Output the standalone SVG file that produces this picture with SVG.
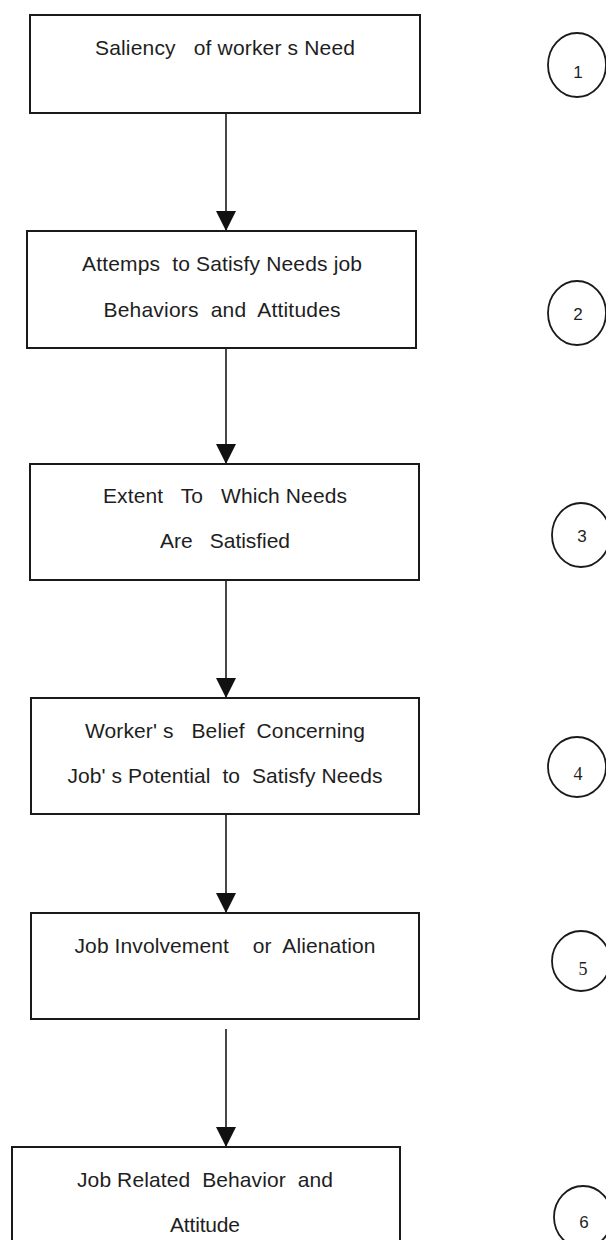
<svg xmlns="http://www.w3.org/2000/svg" width="606" height="1240" viewBox="0 0 606 1240">
<style>
.box{fill:#fff;stroke:#1a1a1a;stroke-width:2}
.lbl{font-family:"Liberation Sans",Arial,sans-serif;font-size:21px;fill:#1e1e1e;text-anchor:middle}
.num{fill:#fff;stroke:#1a1a1a;stroke-width:1.8}
.nt{font-family:"Liberation Sans",Arial,sans-serif;font-size:17px;fill:#1e1e1e;text-anchor:middle}
.ns{font-family:"Liberation Serif","Times New Roman",serif;font-size:18px;fill:#1e1e1e;text-anchor:middle}
.con{stroke:#1a1a1a;stroke-width:1.6;fill:none;marker-end:url(#ah)}
</style>
<defs>
<marker id="ah" markerUnits="userSpaceOnUse" markerWidth="20" markerHeight="22" refX="20" refY="10" orient="auto">
<path d="M0,0 L20,10 L0,20 Z" fill="#111"/>
</marker>
</defs>
<rect width="606" height="1240" fill="#fff"/>
<g id="connectors">
<line class="con" x1="226" y1="113" x2="226" y2="231"/>
<line class="con" x1="226" y1="348" x2="226" y2="464"/>
<line class="con" x1="226" y1="580" x2="226" y2="698"/>
<line class="con" x1="226" y1="814" x2="226" y2="913"/>
<line class="con" x1="226" y1="1029" x2="226" y2="1147"/>
</g>
<g id="node1">
<rect class="box" x="30" y="15" width="390" height="98"/>
<text class="lbl" x="225" y="55" xml:space="preserve" textLength="260" lengthAdjust="spacing">Saliency   of worker s Need</text>
</g>
<g id="node2">
<rect class="box" x="27" y="231" width="389" height="117"/>
<text class="lbl" x="222" y="271" xml:space="preserve" textLength="280" lengthAdjust="spacing">Attemps  to Satisfy Needs job</text>
<text class="lbl" x="222" y="317" xml:space="preserve" textLength="237" lengthAdjust="spacing">Behaviors  and  Attitudes</text>
</g>
<g id="node3">
<rect class="box" x="30" y="464" width="389" height="116"/>
<text class="lbl" x="225" y="503" xml:space="preserve" textLength="244" lengthAdjust="spacing">Extent   To   Which Needs</text>
<text class="lbl" x="225" y="548" xml:space="preserve" textLength="130" lengthAdjust="spacing">Are   Satisfied</text>
</g>
<g id="node4">
<rect class="box" x="31" y="698" width="388" height="116"/>
<text class="lbl" x="225" y="738" xml:space="preserve" textLength="280" lengthAdjust="spacing">Worker' s   Belief  Concerning</text>
<text class="lbl" x="225" y="783" xml:space="preserve" textLength="315" lengthAdjust="spacing">Job' s Potential  to  Satisfy Needs</text>
</g>
<g id="node5">
<rect class="box" x="31" y="913" width="388" height="106"/>
<text class="lbl" x="225" y="953" xml:space="preserve" textLength="301" lengthAdjust="spacing">Job Involvement    or  Alienation</text>
</g>
<g id="node6">
<rect class="box" x="12" y="1147" width="388" height="120"/>
<text class="lbl" x="205" y="1187" xml:space="preserve" textLength="256" lengthAdjust="spacing">Job Related  Behavior  and</text>
<text class="lbl" x="205" y="1232" textLength="70" lengthAdjust="spacing">Attitude</text>
</g>
<g id="badge1"><ellipse class="num" cx="577" cy="65" rx="29" ry="32"/><text class="nt" x="578" y="78">1</text></g>
<g id="badge2"><ellipse class="num" cx="577" cy="313" rx="29" ry="32"/><text class="nt" x="578" y="320">2</text></g>
<g id="badge3"><ellipse class="num" cx="581" cy="535" rx="29" ry="32"/><text class="nt" x="582" y="542">3</text></g>
<g id="badge4"><ellipse class="num" cx="577" cy="767" rx="29" ry="30"/><text class="ns" x="578" y="780">4</text></g>
<g id="badge5"><ellipse class="num" cx="581" cy="961" rx="29" ry="30"/><text class="ns" x="583" y="975">5</text></g>
<g id="badge6"><ellipse class="num" cx="583" cy="1217" rx="29" ry="31"/><text class="nt" x="584" y="1228">6</text></g>
</svg>
